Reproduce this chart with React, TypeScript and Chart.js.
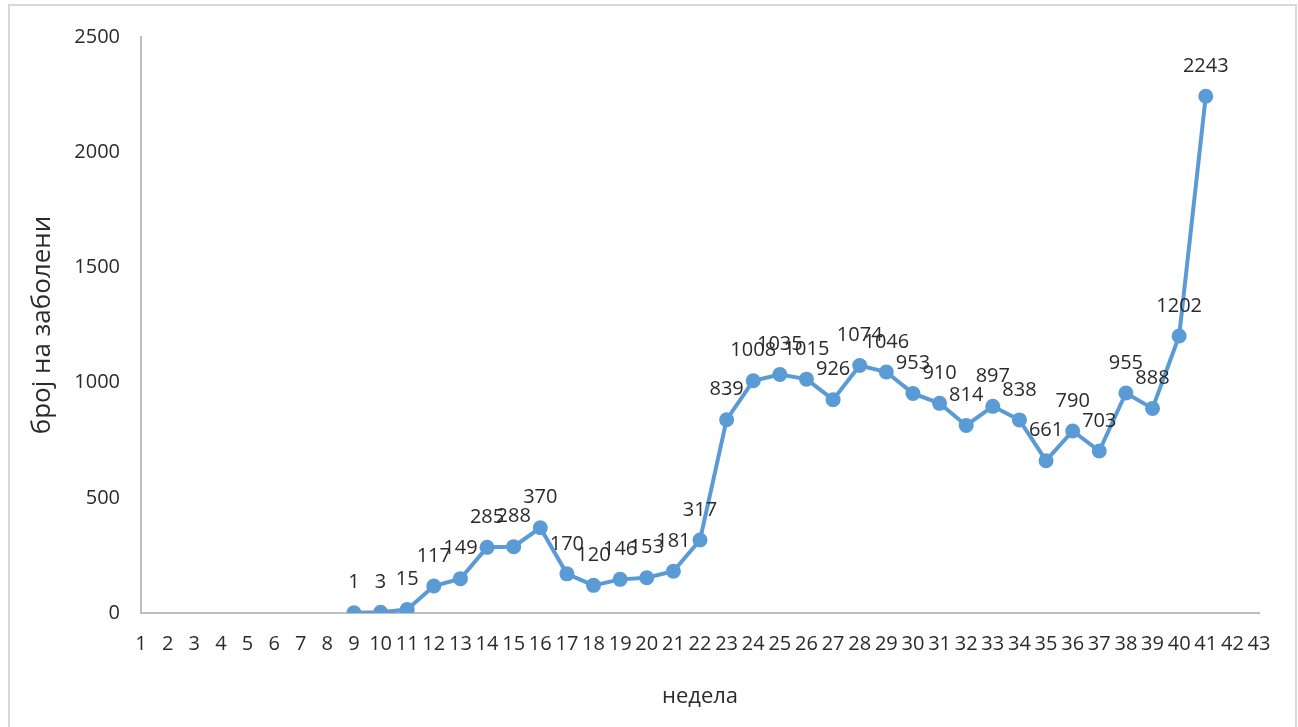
import React, { useEffect, useRef } from "react";
import { Chart, registerables } from "chart.js";

Chart.register(...registerables);

const weeks: string[] = Array.from({ length: 43 }, (_, i) => String(i + 1));
const cases: (number | null)[] = [
  null, null, null, null, null, null, null, null,
  1, 3, 15, 117, 149, 285, 288, 370, 170, 120, 146, 153, 181, 317,
  839, 1008, 1035, 1015, 926, 1074, 1046, 953, 910, 814, 897, 838,
  661, 790, 703, 955, 888, 1202, 2243,
  null, null,
];
const yTicks: number[] = [0, 500, 1000, 1500, 2000, 2500];

const FONT = "'Open Sans', 'Noto Sans', sans-serif";
const TEXT = "#2b2b2b";
const BLUE = "#5B9BD5";
const AXIS = "#BFBFBF";
const SIZE = 20;

const labelPlugin = {
  id: "pointLabels",
  afterDatasetsDraw(chart: any) {
    const ctx = chart.ctx;
    const meta = chart.getDatasetMeta(0);
    const data = chart.data.datasets[0].data as (number | null)[];
    ctx.save();
    ctx.font = `${SIZE}px ${FONT}`;
    ctx.fillStyle = TEXT;
    ctx.textAlign = "center";
    ctx.textBaseline = "middle";
    meta.data.forEach((el: any, i: number) => {
      const v = data[i];
      if (v === null || v === undefined) return;
      ctx.fillText(String(v), el.x, el.y - 30);
    });
    ctx.restore();
  },
};

export default function App() {
  const ref = useRef<HTMLCanvasElement | null>(null);

  useEffect(() => {
    if (!ref.current) return;
    const chart = new Chart(ref.current, {
      type: "line",
      data: {
        labels: weeks,
        datasets: [
          {
            data: cases,
            borderColor: BLUE,
            backgroundColor: BLUE,
            borderWidth: 4,
            pointRadius: 7.5,
            pointHoverRadius: 7.5,
            pointBackgroundColor: BLUE,
            pointBorderColor: BLUE,
            pointBorderWidth: 0,
            tension: 0,
            spanGaps: false,
          },
        ],
      },
      options: {
        animation: false,
        responsive: false,
        maintainAspectRatio: false,
        layout: { padding: { top: 37, right: 39, bottom: 0, left: 0 } },
        plugins: {
          legend: { display: false },
          tooltip: { enabled: false },
        },
        scales: {
          x: {
            offset: false,
            grid: { display: false, drawTicks: false },
            border: { display: true, color: AXIS, width: 2 },
            ticks: {
              autoSkip: false,
              maxRotation: 0,
              minRotation: 0,
              padding: 19,
              color: TEXT,
              font: { family: FONT, size: SIZE },
            },
            title: {
              display: true,
              text: "недела",
              color: TEXT,
              font: { family: FONT, size: 22 },
              padding: { top: 0, bottom: 17 },
            },
            afterFit: (s: any) => {
              s.height = 114;
            },
          },
          y: {
            min: 0,
            max: 2500,
            grid: { display: false, drawTicks: false },
            border: { display: true, color: AXIS, width: 2 },
            afterBuildTicks: (s: any) => {
              s.ticks = yTicks.map((v) => ({ value: v }));
            },
            ticks: {
              padding: 21,
              color: TEXT,
              font: { family: FONT, size: SIZE },
              callback: (v: any) => String(v),
            },
            title: {
              display: true,
              text: "број на заболени",
              color: TEXT,
              font: { family: FONT, size: 26 },
              padding: { top: 27, bottom: 0 },
            },
            afterFit: (s: any) => {
              s.width = 141;
            },
          },
        },
      },
      plugins: [labelPlugin],
    });
    return () => chart.destroy();
  }, []);

  return (
    <div
      style={{
        position: "absolute",
        left: 0,
        top: 0,
        width: 1298,
        height: 727,
        overflow: "hidden",
        background: "#fff",
      }}
    >
      <div
        style={{
          position: "absolute",
          left: 8,
          top: 4,
          width: 1289,
          height: 800,
          boxSizing: "border-box",
          border: "2px solid #D9D9D9",
        }}
      />
      <canvas
        ref={ref}
        width={1298}
        height={727}
        style={{ position: "absolute", left: 0, top: 0, width: 1298, height: 727 }}
      />
    </div>
  );
}
